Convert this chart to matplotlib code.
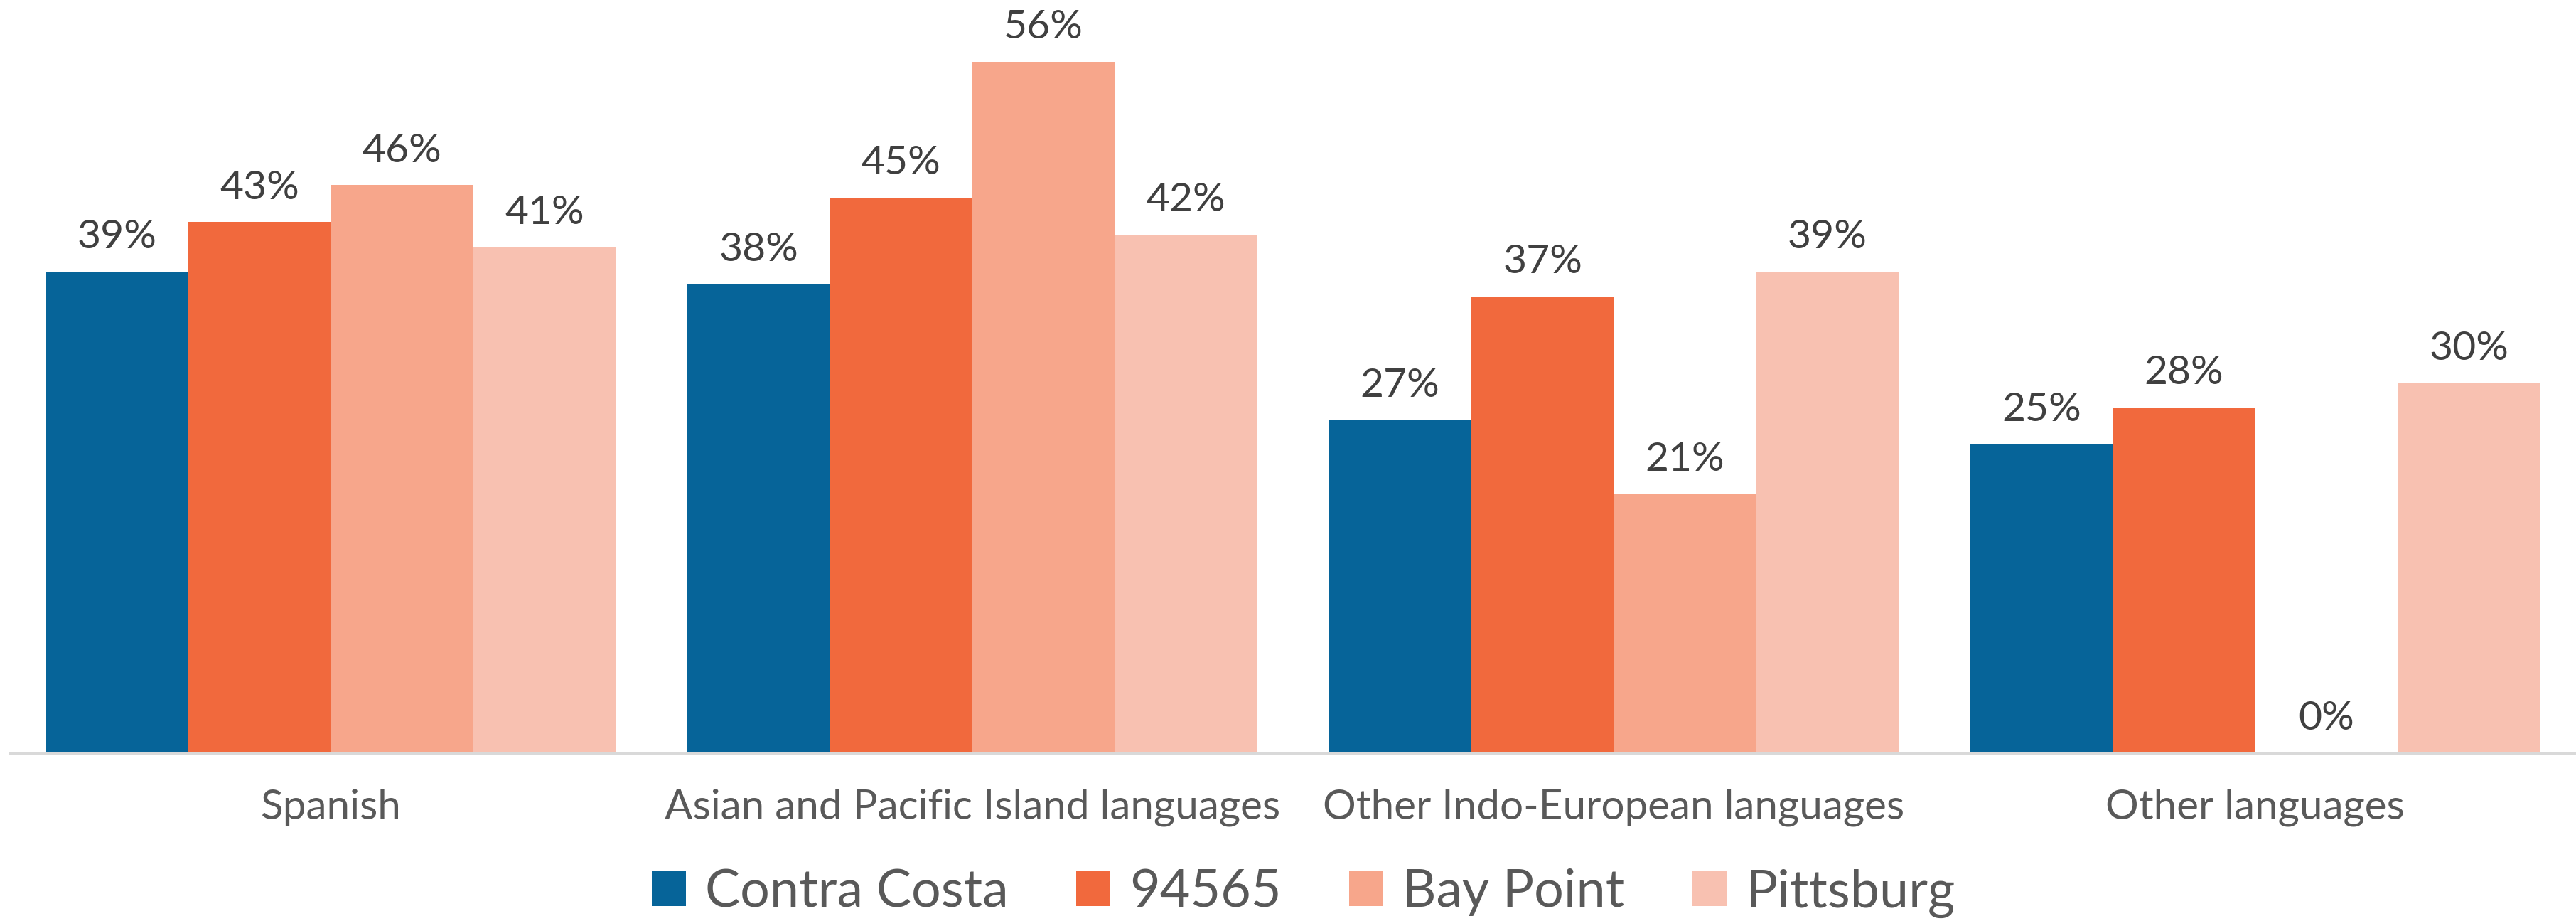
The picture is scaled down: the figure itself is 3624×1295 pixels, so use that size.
import matplotlib
matplotlib.use("Agg")
import matplotlib.pyplot as plt
import numpy as np

categories = ["Spanish", "Asian and Pacific Island languages",
              "Other Indo-European languages", "Other languages"]
series_names = ["Contra Costa", "94565", "Bay Point", "Pittsburg"]
contra_costa = [39, 38, 27, 25]
zip_94565 = [43, 45, 37, 28]
bay_point = [46, 56, 21, 0]
pittsburg = [41, 42, 39, 30]
values = [contra_costa, zip_94565, bay_point, pittsburg]
colors = ["#066499", "#F1693D", "#F7A68B", "#F8C1B1"]

plt.rcParams['font.family'] = ['Lato', 'DejaVu Sans']

W, H = 3624, 1295
fig = plt.figure(figsize=(W / 100, H / 100), dpi=100)
base_y = 1059
ax = fig.add_axes([14 / W, 1 - base_y / H, (W - 14) / W, base_y / H])

x = np.arange(len(categories))
bw = 0.222
for i, (name, vals, c) in enumerate(zip(series_names, values, colors)):
    xs = x + (i - 1.5) * bw
    vals_frac = np.array(vals) / 100
    ax.bar(xs, vals_frac, width=bw, color=c, label=name, linewidth=0)
    for xx, v in zip(xs, vals):
        ax.text(xx, v / 100 + 0.013, f"{v}%", ha="center", va="bottom",
                fontsize=41, color="#404040")

ax.set_xlim(-0.5, 3.5)
ax.set_ylim(0, 0.61)
for s in ["top", "right", "left"]:
    ax.spines[s].set_visible(False)
ax.spines["bottom"].set_color("#D9D9D9")
ax.spines["bottom"].set_linewidth(2.5)
ax.set_yticks([])
ax.set_xticks(x)
ax.set_xticklabels(categories, fontsize=42, color="#595959")
ax.tick_params(axis="x", length=0, pad=36)

fig.legend(loc="center", bbox_to_anchor=(0.506, 1 - 1256 / H), ncol=4,
           frameon=False, fontsize=53, labelcolor="#595959",
           handlelength=0.65, handleheight=0.65, handletextpad=0.37,
           columnspacing=1.3, borderaxespad=0)

fig.savefig("out.png", dpi=100)
